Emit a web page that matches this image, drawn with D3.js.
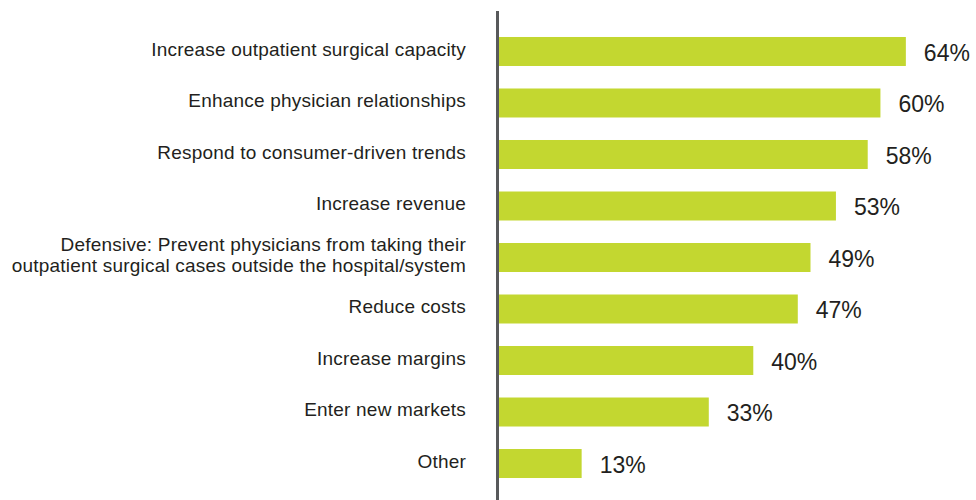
<!DOCTYPE html>
<html>
<head>
<meta charset="utf-8">
<script src="https://cdn.jsdelivr.net/npm/d3@7"></script>
<style>
  html, body { margin: 0; padding: 0; background: #ffffff; }
  svg { display: block; }
</style>
</head>
<body>
<svg id="chart" width="976" height="500"></svg>
<script>
// Reasons for investing in outpatient surgery (share of respondents, %)
const categories = [
  ["Increase outpatient surgical capacity"],
  ["Enhance physician relationships"],
  ["Respond to consumer-driven trends"],
  ["Increase revenue"],
  ["Defensive: Prevent physicians from taking their", "outpatient surgical cases outside the hospital/system"],
  ["Reduce costs"],
  ["Increase margins"],
  ["Enter new markets"],
  ["Other"]
];
const values = [64, 60, 58, 53, 49, 47, 40, 33, 13];
const valueLabels = ["64%", "60%", "58%", "53%", "49%", "47%", "40%", "33%", "13%"];

const svg = d3.select("#chart");
const font = "'Liberation Sans', Arial, Helvetica, sans-serif";
const textColor = "#231f20";
const barColor = "#c3d730";

const ids = categories.map((_, i) => i);

const y = d3.scaleBand()
  .domain(ids)
  .range([22, 493])
  .paddingInner(0.437)
  .paddingOuter(0.291);

const x = d3.scaleLinear()
  .domain([0, 70])
  .range([499, 944]);

// Bars
svg.append("g")
  .selectAll("rect")
  .data(values)
  .join("rect")
  .attr("x", x(0))
  .attr("y", (d, i) => y(i))
  .attr("width", d => x(d) - x(0))
  .attr("height", y.bandwidth())
  .attr("fill", barColor);

// Vertical baseline
svg.append("line")
  .attr("x1", 497.5).attr("x2", 497.5)
  .attr("y1", 11).attr("y2", 500)
  .attr("stroke", "#58595b")
  .attr("stroke-width", 3);

// Category labels (right-aligned, multi-line where needed)
const labelSize = 19;
const lineGap = 21;
const catG = svg.append("g")
  .attr("font-family", font)
  .attr("font-size", labelSize)
  .attr("letter-spacing", 0.2)
  .attr("fill", textColor)
  .attr("text-anchor", "end");

categories.forEach((lines, i) => {
  const cy = y(i) + y.bandwidth() / 2;
  const t = catG.append("text")
    .attr("x", 466);
  const firstBase = cy + labelSize * 0.36 - (lines.length - 1) * lineGap / 2 - 2.5;
  lines.forEach((ln, j) => {
    t.append("tspan")
      .attr("x", 466)
      .attr("y", firstBase + j * lineGap)
      .text(ln);
  });
});

// Value labels
const valSize = 23;
svg.append("g")
  .attr("font-family", font)
  .attr("font-size", valSize)
  .attr("fill", textColor)
  .selectAll("text")
  .data(values)
  .join("text")
  .attr("x", d => x(d) + 18)
  .attr("y", (d, i) => y(i) + y.bandwidth() / 2 + valSize * 0.36 + 1)
  .text((d, i) => valueLabels[i]);
</script>
</body>
</html>
